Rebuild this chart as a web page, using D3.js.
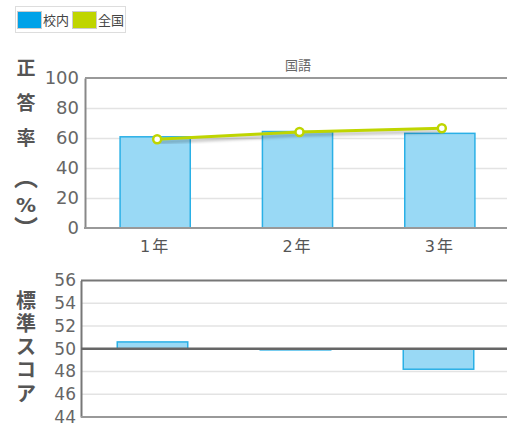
<!DOCTYPE html>
<html>
<head>
<meta charset="utf-8">
<script src="https://cdn.jsdelivr.net/npm/d3@7"></script>
<style>
	body { margin: 0; background: #fff; }
	svg { display: block; }
	text { font-family: "DejaVu Sans", "Noto Sans CJK JP", sans-serif; }
</style>
</head>
<body>
<svg width="507" height="425"></svg>
<script>
'use strict';

// data
var grades = ['1年', '2年', '3年'];
var schoolRate = [60.8, 64.3, 63.1];
var nationalRate = [59.2, 64.0, 66.5];
var schoolScore = [50.6, 49.9, 48.2];
var rateTicks = [0, 20, 40, 60, 80, 100];
var scoreTicks = [44, 46, 48, 50, 52, 54, 56];
var legendItems = [{ name: '校内', color: '#00a2e8' }, { name: '全国', color: '#bfd500' }];

var svg = d3.select('svg');
var jp = '"Noto Sans CJK JP", sans-serif';
var barFill = '#99d9f5', barStroke = '#2ab0e6', lineColor = '#bfd500';

/**
 * Legend
 */
var legend = svg.append('g');
legend.append('rect')
	.attr('x', 15.5).attr('y', 6.5).attr('width', 110).attr('height', 26)
	.attr('fill', '#fff').attr('stroke', '#ddd');
legendItems.forEach(function (d, i) {
	var x0 = 17 + i * 55;
	legend.append('rect')
		.attr('x', x0 + 0.5).attr('y', 11.5).attr('width', 24).attr('height', 17)
		.attr('fill', d.color).attr('stroke', '#ccc');
	legend.append('text')
		.attr('x', x0 + 26).attr('y', 25)
		.attr('font-family', jp).attr('font-size', 13).attr('fill', '#444')
		.text(d.name);
});

/**
 * Helper: vertical label written one char at a time
 */
function verticalLabel(chars, ys, sizes) {
	chars.forEach(function (c, i) {
		svg.append('text')
			.attr('x', 26).attr('y', ys[i])
			.attr('text-anchor', 'middle').attr('dominant-baseline', 'central')
			.attr('font-family', jp).attr('font-weight', 'bold')
			.attr('font-size', sizes[i]).attr('fill', '#555')
			.text(c);
	});
}

/**
 * Top chart: correct answer rate
 */
var top1 = { left: 85, right: 511, top: 78, bottom: 228 };
var x1 = d3.scaleBand().domain(grades).range([top1.left - 1, top1.right]).paddingInner(0.5).paddingOuter(0.25);
var y1 = d3.scaleLinear().domain([0, 100]).range([top1.bottom, top1.top]);

svg.append('text')
	.attr('x', 298).attr('y', 70).attr('text-anchor', 'middle')
	.attr('font-family', jp).attr('font-size', 13).attr('fill', '#666')
	.text('国語');

svg.append('g').selectAll('line')
	.data(rateTicks.filter(function (t) { return t > 0 && t < 100; }))
	.enter().append('line')
	.attr('x1', top1.left).attr('x2', 507)
	.attr('y1', function (d) { return y1(d) + 0.5; }).attr('y2', function (d) { return y1(d) + 0.5; })
	.attr('stroke', '#e3e3e3').attr('stroke-width', 1.5);

svg.append('g').selectAll('rect')
	.data(schoolRate)
	.enter().append('rect')
	.attr('x', function (d, i) { return x1(grades[i]) + 0.5; })
	.attr('y', function (d) { return y1(d); })
	.attr('width', x1.bandwidth() - 1)
	.attr('height', function (d) { return y1(0) - y1(d); })
	.attr('fill', barFill).attr('stroke', barStroke).attr('stroke-width', 1.5);

var yAxis1 = d3.axisLeft(y1).tickValues(rateTicks).tickSize(0).tickPadding(6);
var ga1 = svg.append('g').attr('transform', 'translate(' + top1.left + ',0)').call(yAxis1);
ga1.select('.domain').attr('stroke', '#888').attr('stroke-width', 2);
ga1.selectAll('text').attr('font-size', 18).attr('fill', '#666').attr('font-family', '"DejaVu Sans", sans-serif');

svg.append('line')
	.attr('x1', top1.left).attr('x2', 507).attr('y1', top1.top).attr('y2', top1.top)
	.attr('stroke', '#999').attr('stroke-width', 2);
svg.append('line')
	.attr('x1', top1.left - 1).attr('x2', 507).attr('y1', top1.bottom).attr('y2', top1.bottom)
	.attr('stroke', '#999').attr('stroke-width', 2);

var xAxis1 = d3.axisBottom(x1).tickSize(0).tickPadding(13);
var gx1 = svg.append('g').attr('transform', 'translate(0,' + top1.bottom + ')').call(xAxis1);
gx1.select('.domain').remove();
gx1.selectAll('text').attr('font-size', 16).attr('fill', '#555').attr('font-family', jp)
	.attr('letter-spacing', 2);

// national line with shadow
var lineGen = d3.line()
	.x(function (d, i) { return x1(grades[i]) + x1.bandwidth() / 2 + 2; })
	.y(function (d) { return y1(d); });
var defs = svg.append('defs');
defs.append('filter').attr('id', 'blur')
	.append('feGaussianBlur').attr('stdDeviation', 1.5);
svg.append('path')
	.datum(nationalRate)
	.attr('d', lineGen)
	.attr('transform', 'translate(1,3)')
	.attr('fill', 'none').attr('stroke', '#000').attr('stroke-opacity', 0.25)
	.attr('stroke-width', 3).attr('filter', 'url(#blur)');
svg.append('path')
	.datum(nationalRate)
	.attr('d', lineGen)
	.attr('fill', 'none').attr('stroke', lineColor).attr('stroke-width', 3);
svg.append('g').selectAll('circle')
	.data(nationalRate)
	.enter().append('circle')
	.attr('cx', function (d, i) { return x1(grades[i]) + x1.bandwidth() / 2 + 2; })
	.attr('cy', function (d) { return y1(d); })
	.attr('r', 4)
	.attr('fill', '#fff').attr('stroke', lineColor).attr('stroke-width', 2.5);

verticalLabel(['正', '答', '率', '︵', '%', '︶'], [68, 103, 138, 178, 205, 229],
	[19, 19, 19, 24, 20, 24]);

/**
 * Bottom chart: standard score
 */
var bot = { left: 81, right: 510, top: 280.5, bottom: 417 };
var x2 = d3.scaleBand().domain(grades).range([bot.left, bot.right]).paddingInner(0.5).paddingOuter(0.25);
var y2 = d3.scaleLinear().domain([44, 56]).range([bot.bottom, bot.top]);

svg.append('g').selectAll('line')
	.data(scoreTicks.filter(function (t) { return t > 44 && t < 56 && t !== 50; }))
	.enter().append('line')
	.attr('x1', bot.left).attr('x2', 507)
	.attr('y1', function (d) { return y2(d); }).attr('y2', function (d) { return y2(d); })
	.attr('stroke', '#e3e3e3').attr('stroke-width', 1.5);

svg.append('g').selectAll('rect')
	.data(schoolScore)
	.enter().append('rect')
	.attr('x', function (d, i) { return x2(grades[i]) + 0.5; })
	.attr('y', function (d) { return Math.min(y2(d), y2(50)); })
	.attr('width', x2.bandwidth() - 1)
	.attr('height', function (d) { return Math.abs(y2(d) - y2(50)); })
	.attr('fill', barFill).attr('stroke', barStroke).attr('stroke-width', 1.5);

var yAxis2 = d3.axisLeft(y2).tickValues(scoreTicks).tickSize(0).tickPadding(5);
var ga2 = svg.append('g').attr('transform', 'translate(' + bot.left + ',0)').call(yAxis2);
ga2.select('.domain').attr('stroke', '#777').attr('stroke-width', 2);
ga2.selectAll('text').attr('font-size', 17).attr('fill', '#666').attr('font-family', '"DejaVu Sans", sans-serif');

svg.append('line')
	.attr('x1', bot.left).attr('x2', 507).attr('y1', bot.top).attr('y2', bot.top)
	.attr('stroke', '#777').attr('stroke-width', 2);
svg.append('line')
	.attr('x1', bot.left).attr('x2', 507).attr('y1', y2(50)).attr('y2', y2(50))
	.attr('stroke', '#666').attr('stroke-width', 2.5);
svg.append('line')
	.attr('x1', bot.left).attr('x2', 507).attr('y1', bot.bottom).attr('y2', bot.bottom)
	.attr('stroke', '#999').attr('stroke-width', 2);

verticalLabel(['標', '準', 'ス', 'コ', 'ア'], [301, 324, 347, 370, 394], [20, 20, 20, 20, 20]);
</script>
</body>
</html>
